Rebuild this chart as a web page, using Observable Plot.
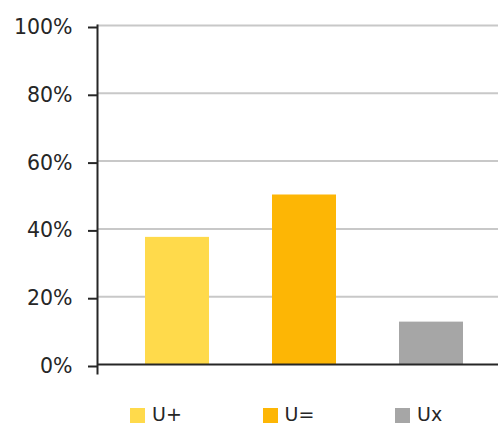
<!DOCTYPE html>
<html>
<head>
<meta charset="utf-8">
<script src="https://cdn.jsdelivr.net/npm/d3@7"></script>
<script src="https://cdn.jsdelivr.net/npm/@observablehq/plot@0.6"></script>
<style>
  html, body { margin: 0; padding: 0; background: #fff; }
  #wrap { position: relative; width: 498px; height: 426px; font-family: "DejaVu Sans", sans-serif; }
  #legend { position: absolute; left: 130px; top: 403px; display: flex; color: #262626; font-size: 19px; line-height: 22px; }
  #legend .item { width: 132.5px; display: flex; align-items: center; }
  #legend .sw { width: 15px; height: 15px; margin-right: 7px; margin-top: 2px; display: inline-block; }
</style>
</head>
<body>
<div id="wrap">
  <div id="chart"></div>
  <div id="legend"></div>
</div>
<script>
const categories = ["U+", "U=", "Ux"];
const values = [0.375, 0.5, 0.125];
const colors = ["#FFDA4B", "#FDB605", "#A6A6A6"];
const yTicks = [0, 0.2, 0.4, 0.6, 0.8, 1];

const data = categories.map((c, i) => ({cat: c, value: values[i]}));

const chart = Plot.plot({
  width: 498,
  height: 385,
  marginTop: 25,
  marginBottom: 21,
  marginLeft: 97,
  marginRight: 0,
  style: {fontFamily: "DejaVu Sans, sans-serif", fontSize: "20.5px", color: "#262626", background: "#fff"},
  x: {domain: categories, range: [112.7, 494.3], paddingInner: 0.5, paddingOuter: 0.25, axis: null},
  y: {domain: [0, 1], label: null},
  color: {domain: categories, range: colors},
  marks: [
    Plot.gridY(yTicks.filter(d => d > 0), {stroke: "#c8c8c8", strokeOpacity: 1, strokeWidth: 2}),
    Plot.barY(data, {x: "cat", y: "value", fill: "cat"}),
    Plot.ruleY([0], {stroke: "#262626", strokeWidth: 2}),
    Plot.frame({anchor: "left", stroke: "#262626", strokeWidth: 2, insetBottom: -9}),
    Plot.axisY({ticks: yTicks, label: null, tickFormat: d => Math.round(d * 100) + "%", tickSize: 9, tickPadding: 16, stroke: "#262626", strokeWidth: 2, fill: "#262626", fontSize: 20.5, dy: 2})
  ]
});
document.getElementById("chart").appendChild(chart);

const legend = document.getElementById("legend");
categories.forEach((c, i) => {
  const item = document.createElement("div");
  item.className = "item";
  const sw = document.createElement("span");
  sw.className = "sw";
  sw.style.background = colors[i];
  item.appendChild(sw);
  item.appendChild(document.createTextNode(c));
  legend.appendChild(item);
});
</script>
</body>
</html>
